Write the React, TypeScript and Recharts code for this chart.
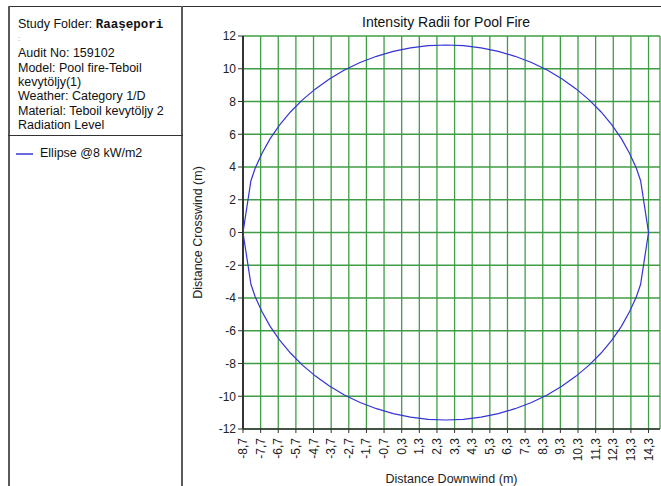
import { ScatterChart, Scatter, XAxis, YAxis, CartesianGrid, Label } from 'recharts';

// Ellipse outline (m), traced counter-clockwise from the downwind tip
const ellipseX = [
  14.3, 13.85, 13.61, 13.22, 12.76, 12.22, 11.61, 10.93, 10.19, 9.4, 8.55, 7.66, 6.73, 5.78, 4.8, 3.8, 2.8, 1.8, 0.8,
  -0.18, -1.13, -2.06, -2.95, -3.8, -4.59, -5.33, -6.01, -6.62, -7.16, -7.62, -8.01, -8.25, -8.7, -8.25, -8.01, -7.62,
  -7.16, -6.62, -6.01, -5.33, -4.59, -3.8, -2.95, -2.06, -1.13, -0.18, 0.8, 1.8, 2.8, 3.8, 4.8, 5.78, 6.73, 7.66, 8.55,
  9.4, 10.19, 10.93, 11.61, 12.22, 12.76, 13.22, 13.61, 13.85, 14.3,
];
const ellipseY = [
  0, 3.16, 3.92, 4.84, 5.73, 6.57, 7.36, 8.1, 8.77, 9.38, 9.92, 10.38, 10.76, 11.06, 11.28, 11.41, 11.45, 11.41, 11.28,
  11.06, 10.76, 10.38, 9.92, 9.38, 8.77, 8.1, 7.36, 6.57, 5.73, 4.84, 3.92, 3.16, 0, -3.16, -3.92, -4.84, -5.73, -6.57,
  -7.36, -8.1, -8.77, -9.38, -9.92, -10.38, -10.76, -11.06, -11.28, -11.41, -11.45, -11.41, -11.28, -11.06, -10.76,
  -10.38, -9.92, -9.38, -8.77, -8.1, -7.36, -6.57, -5.73, -4.84, -3.92, -3.16, 0,
];
const xTicks = [
  -8.7, -7.7, -6.7, -5.7, -4.7, -3.7, -2.7, -1.7, -0.7, 0.3, 1.3, 2.3, 3.3, 4.3, 5.3, 6.3, 7.3, 8.3, 9.3, 10.3, 11.3, 12.3,
  13.3, 14.3,
];
const yTicks = [-12, -10, -8, -6, -4, -2, 0, 2, 4, 6, 8, 10, 12];
const infoLines = [
  'Audit No: 159102',
  'Model: Pool fire-Teboil',
  'kevytöljy(1)',
  'Weather: Category 1/D',
  'Material: Teboil kevytöljy 2',
  'Radiation Level',
];

const points = ellipseX.map((x, i) => ({ x, y: ellipseY[i] }));
const FONT = '"Liberation Sans", Arial, sans-serif';
const GREEN = '#3f9e45';
const FRAME = '#5a5a5a';

const fmt = (v: number) => v.toFixed(1).replace('.', ',');

function XTick(props: any) {
  const { x, y, payload } = props;
  return (
    <text
      x={0}
      y={0}
      transform={`translate(${x},${y + 3}) rotate(-90)`}
      textAnchor="end"
      dominantBaseline="central"
      fontSize={12}
      fontFamily={FONT}
      fill="#222"
    >
      {fmt(payload.value)}
    </text>
  );
}

export default function App() {
  const lineH = 14.3;
  return (
    <div style={{ position: 'absolute', left: 0, top: 0, width: 661, height: 486, background: '#fff', fontFamily: FONT, color: '#111' }}>
      {/* frame */}
      <div style={{ position: 'absolute', left: 8, top: 6, width: 653, height: 1, background: '#333' }} />
      <div style={{ position: 'absolute', left: 8, top: 6, width: 2, height: 480, background: FRAME }} />
      <div style={{ position: 'absolute', left: 181, top: 6, width: 2, height: 480, background: FRAME }} />
      <div style={{ position: 'absolute', left: 8, top: 135, width: 175, height: 1, background: '#333' }} />

      <div style={{ position: 'absolute', left: 18, top: 24 - lineH / 2, fontSize: 12.5, lineHeight: `${lineH}px`, whiteSpace: 'nowrap' }}>
        <div>
          Study Folder:{' '}
          <span style={{ fontFamily: '"Liberation Mono", monospace', fontWeight: 700, fontSize: 12.5 }}>Raașepori</span>
        </div>
        <div style={{ fontSize: 8, color: '#888' }}>:</div>
        {infoLines.map((t) => (
          <div key={t}>{t}</div>
        ))}
      </div>

      <div style={{ position: 'absolute', left: 16, top: 153, width: 17, height: 1.5, background: '#6a6ae0' }} />
      <div style={{ position: 'absolute', left: 40, top: 145, fontSize: 12.5, lineHeight: '16px', whiteSpace: 'nowrap' }}>
        Ellipse @8 kW/m2
      </div>

      <div style={{ position: 'absolute', left: 362, top: 14, fontSize: 14, whiteSpace: 'nowrap' }}>
        Intensity Radii for Pool Fire
      </div>

      <div style={{ position: 'absolute', left: 0, top: 0 }}>
        <ScatterChart width={661} height={486} margin={{ top: 36, right: 1, bottom: 0, left: 183 }}>
          <CartesianGrid stroke={GREEN} strokeWidth={1.3} fill="#fff" />
          <XAxis
            type="number"
            dataKey="x"
            domain={[-8.7, 14.95]}
            ticks={xTicks}
            interval={0}
            allowDataOverflow
            height={57}
            tick={<XTick />}
            tickSize={4}
            axisLine={{ stroke: '#333', strokeWidth: 1.5 }}
            tickLine={{ stroke: '#333' }}
          >
            <Label
              value="Distance Downwind (m)"
              position="insideBottom"
              offset={3}
              style={{ fontSize: 12.5, fontFamily: FONT, fill: '#222' }}
            />
          </XAxis>
          <YAxis
            type="number"
            dataKey="y"
            domain={[-12, 12]}
            ticks={yTicks}
            interval={0}
            width={60}
            tickSize={5}
            tick={{ fontSize: 12, fontFamily: FONT, fill: '#222' }}
            axisLine={{ stroke: '#333', strokeWidth: 2 }}
            tickLine={{ stroke: '#333' }}
          >
            <Label
              value="Distance Crosswind (m)"
              angle={-90}
              position="insideLeft"
              offset={15}
              style={{ fontSize: 12.5, fontFamily: FONT, fill: '#222', textAnchor: 'middle' }}
            />
          </YAxis>
          <Scatter
            data={points}
            line={{ stroke: '#3434d4', strokeWidth: 1.2 }}
            lineType="joint"
            shape={() => <g />}
            isAnimationActive={false}
          />
        </ScatterChart>
      </div>
    </div>
  );
}
